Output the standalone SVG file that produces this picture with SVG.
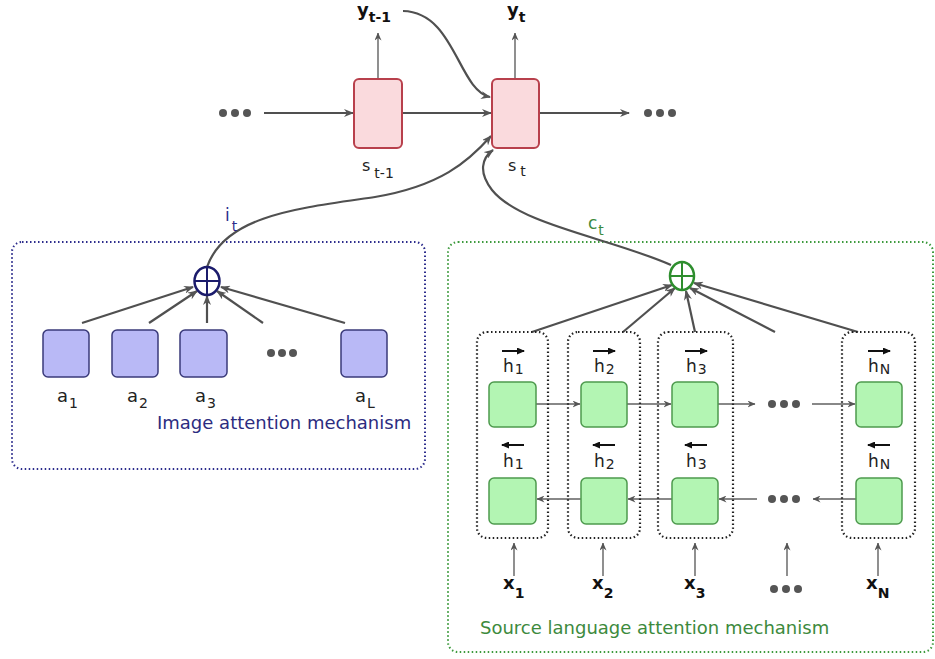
<svg xmlns="http://www.w3.org/2000/svg" width="935" height="659" viewBox="0 0 935 659">
<defs>
<marker id="ah" markerWidth="10" markerHeight="8" refX="9" refY="4" orient="auto" markerUnits="userSpaceOnUse">
<path d="M0,0 L10,4 L0,8 L3,4 Z" fill="#555"/>
</marker>
<marker id="ahs" markerWidth="8" markerHeight="7" refX="7.5" refY="3.5" orient="auto" markerUnits="userSpaceOnUse">
<path d="M0,0 L8,3.5 L0,7 L2.5,3.5 Z" fill="#555"/>
</marker>
<marker id="vec" markerWidth="8" markerHeight="7" refX="7" refY="3.5" orient="auto" markerUnits="userSpaceOnUse">
<path d="M0,0 L8,3.5 L0,7 Z" fill="#111"/>
</marker>
</defs>
<style>
text{font-family:"DejaVu Sans","Liberation Sans",sans-serif;}
.lbl{font-size:18px;fill:#222;}
.hl{font-size:17px;fill:#222;}
.sl{font-size:16px;fill:#222;}
.sub{font-size:14px;}
.bold{font-weight:bold;fill:#111;}
.pink{fill:#fadadd;stroke:#b8404c;stroke-width:2;}
.blue{fill:#b9b9f6;stroke:#3a3a7a;stroke-width:1.5;}
.green{fill:#b3f5b3;stroke:#4e9a4e;stroke-width:1.5;}
.thick{fill:none;stroke:#505050;stroke-width:2.2;}
.thin{fill:none;stroke:#606060;stroke-width:1.4;}
.col{fill:none;stroke:#222;stroke-width:2.2;stroke-dasharray:1.5 2.5;}
.dot{fill:#555;}
.vecl{stroke:#111;stroke-width:2;}
</style>

<!-- containers -->
<g id="image-attention">
<rect x="12" y="242" width="413" height="227" rx="10" fill="none" stroke="#2c2c8c" stroke-width="2" stroke-dasharray="1.5 2.5"/>
<text x="157" y="429" style="font-size:18px;fill:#2c2c80">Image attention mechanism</text>
</g>
<g id="source-attention">
<rect x="448" y="242" width="485" height="410" rx="10" fill="none" stroke="#3d9a3d" stroke-width="2" stroke-dasharray="1.5 2.5"/>
<text x="480" y="634" style="font-size:18px;fill:#3d8a3d">Source language attention mechanism</text>
</g>

<!-- connectors -->
<g id="connectors">
<line class="thick" x1="264" y1="113" x2="353" y2="113" marker-end="url(#ah)"/>
<line class="thick" x1="402" y1="113" x2="491" y2="113" marker-end="url(#ah)"/>
<line class="thick" x1="539" y1="113" x2="629" y2="113" marker-end="url(#ah)"/>
<line class="thin" x1="378" y1="79" x2="378" y2="33" marker-end="url(#ahs)"/>
<line class="thin" x1="515" y1="79" x2="515" y2="33" marker-end="url(#ahs)"/>
<path class="thick" d="M403 11 C455 12 458 90 490 97" marker-end="url(#ah)"/>
<path class="thick" d="M207 267 C225 215 300 208 375 197 C440 186 468 162 491 136" marker-end="url(#ah)"/>
<path class="thick" d="M671 265 C610 238 520 225 492 190 C478 172 482 158 493 150" marker-end="url(#ah)"/>

<!-- image attention -->
<line class="thick" x1="82" y1="323" x2="193" y2="287" marker-end="url(#ah)"/>
<line class="thick" x1="149" y1="323" x2="197" y2="291" marker-end="url(#ah)"/>
<line class="thick" x1="207" y1="323" x2="207" y2="296" marker-end="url(#ah)"/>
<line class="thick" x1="263" y1="323" x2="217" y2="291" marker-end="url(#ah)"/>
<line class="thick" x1="345" y1="323" x2="221" y2="287" marker-end="url(#ah)"/>

<!-- source attention -->
<line class="thick" x1="532" y1="332" x2="672" y2="285" marker-end="url(#ah)"/>
<line class="thick" x1="623" y1="332" x2="675" y2="288" marker-end="url(#ah)"/>
<line class="thick" x1="695" y1="332" x2="686" y2="291" marker-end="url(#ah)"/>
<line class="thick" x1="775" y1="332" x2="690" y2="288" marker-end="url(#ah)"/>
<line class="thick" x1="858" y1="332" x2="694" y2="283" marker-end="url(#ah)"/>

<line class="thin" x1="536" y1="404" x2="580" y2="404" marker-end="url(#ahs)"/>
<line class="thin" x1="627" y1="404" x2="671" y2="404" marker-end="url(#ahs)"/>
<line class="thin" x1="718" y1="404" x2="755" y2="404" marker-end="url(#ahs)"/>
<line class="thin" x1="812" y1="404" x2="855" y2="404" marker-end="url(#ahs)"/>
<line class="thin" x1="581" y1="499" x2="537" y2="499" marker-end="url(#ahs)"/>
<line class="thin" x1="672" y1="499" x2="628" y2="499" marker-end="url(#ahs)"/>
<line class="thin" x1="757" y1="499" x2="719" y2="499" marker-end="url(#ahs)"/>
<line class="thin" x1="856" y1="499" x2="813" y2="499" marker-end="url(#ahs)"/>

<line class="thin" x1="514" y1="576" x2="514" y2="543" marker-end="url(#ahs)"/>
<line class="thin" x1="603" y1="576" x2="603" y2="543" marker-end="url(#ahs)"/>
<line class="thin" x1="695" y1="576" x2="695" y2="543" marker-end="url(#ahs)"/>
<line class="thin" x1="787" y1="576" x2="787" y2="543" marker-end="url(#ahs)"/>
<line class="thin" x1="878" y1="576" x2="878" y2="543" marker-end="url(#ahs)"/>
</g>

<!-- dots -->
<g id="ellipses" class="dot">
<circle cx="223" cy="113" r="4"/><circle cx="235" cy="113" r="4"/><circle cx="247" cy="113" r="4"/>
<circle cx="648" cy="113" r="4"/><circle cx="660" cy="113" r="4"/><circle cx="672" cy="113" r="4"/>
<circle cx="271" cy="353" r="4"/><circle cx="282" cy="353" r="4"/><circle cx="293" cy="353" r="4"/>
<circle cx="772" cy="404" r="4"/><circle cx="784" cy="404" r="4"/><circle cx="796" cy="404" r="4"/>
<circle cx="772" cy="499" r="4"/><circle cx="784" cy="499" r="4"/><circle cx="796" cy="499" r="4"/>
<circle cx="774" cy="589" r="4"/><circle cx="786" cy="589" r="4"/><circle cx="798" cy="589" r="4"/>
</g>

<!-- decoder -->
<g id="s-t-1">
<rect class="pink" x="354" y="79" width="48" height="69" rx="5"/>
<text class="sl" x="362" y="171">s<tspan class="sub" dx="4" dy="7">t-1</tspan></text>
</g>
<g id="s-t">
<rect class="pink" x="492" y="79" width="47" height="69" rx="5"/>
<text class="sl" x="508" y="171">s<tspan class="sub" dx="4" dy="5">t</tspan></text>
</g>
<g id="y-t-1">
<text class="lbl bold" x="357" y="16">y<tspan class="sub" dy="6">t-1</tspan></text>
</g>
<g id="y-t">
<text class="lbl bold" x="507" y="16">y<tspan class="sub" dy="6">t</tspan></text>
</g>

<!-- image attention nodes -->
<g id="sum-i">
<ellipse cx="207" cy="281" rx="12.5" ry="14" fill="#fff" stroke="#1c1c6c" stroke-width="2.5"/>
<line x1="194.5" y1="281" x2="219.5" y2="281" stroke="#1c1c6c" stroke-width="2"/>
<line x1="207" y1="267" x2="207" y2="295" stroke="#1c1c6c" stroke-width="2"/>
<text x="225" y="221" style="font-size:17px;fill:#2c2c8c">i<tspan class="sub" dx="2" dy="10">t</tspan></text>
</g>
<g id="a1"><rect class="blue" x="43" y="330" width="46" height="47" rx="5"/><text class="lbl" x="57" y="402">a<tspan class="sub" dx="1" dy="6">1</tspan></text></g>
<g id="a2"><rect class="blue" x="112" y="330" width="46" height="47" rx="5"/><text class="lbl" x="127" y="402">a<tspan class="sub" dx="1" dy="6">2</tspan></text></g>
<g id="a3"><rect class="blue" x="180" y="330" width="47" height="47" rx="5"/><text class="lbl" x="195" y="402">a<tspan class="sub" dx="1" dy="6">3</tspan></text></g>
<g id="aL"><rect class="blue" x="341" y="330" width="46" height="47" rx="5"/><text class="lbl" x="355" y="402">a<tspan class="sub" dx="1" dy="6">L</tspan></text></g>

<!-- source attention nodes -->
<g id="sum-c">
<ellipse cx="682" cy="276" rx="12" ry="14" fill="#fff" stroke="#2e8e2e" stroke-width="2.5"/>
<line x1="670" y1="276" x2="694" y2="276" stroke="#2e8e2e" stroke-width="2"/>
<line x1="682" y1="262" x2="682" y2="290" stroke="#2e8e2e" stroke-width="2"/>
<text x="588" y="229" style="font-size:17px;fill:#3d8a3d">c<tspan class="sub" dx="1" dy="6">t</tspan></text>
</g>

<g id="col1">
<rect class="col" x="477" y="332" width="71" height="206" rx="10"/>
<line class="vecl" x1="502" y1="351" x2="524" y2="351" marker-end="url(#vec)"/>
<text class="hl" x="503" y="372">h<tspan class="sub" dx="1" dy="2">1</tspan></text>
<rect class="green" x="489" y="382" width="47" height="45" rx="5"/>
<line class="vecl" x1="524" y1="445" x2="502" y2="445" marker-end="url(#vec)"/>
<text class="hl" x="503" y="467">h<tspan class="sub" dx="1" dy="2">1</tspan></text>
<rect class="green" x="489" y="478" width="47" height="46" rx="5"/>
</g>
<g id="col2">
<rect class="col" x="568" y="332" width="72" height="206" rx="10"/>
<line class="vecl" x1="593" y1="351" x2="615" y2="351" marker-end="url(#vec)"/>
<text class="hl" x="594" y="372">h<tspan class="sub" dx="1" dy="2">2</tspan></text>
<rect class="green" x="581" y="382" width="46" height="45" rx="5"/>
<line class="vecl" x1="615" y1="445" x2="593" y2="445" marker-end="url(#vec)"/>
<text class="hl" x="594" y="467">h<tspan class="sub" dx="1" dy="2">2</tspan></text>
<rect class="green" x="581" y="478" width="46" height="46" rx="5"/>
</g>
<g id="col3">
<rect class="col" x="658" y="332" width="75" height="206" rx="10"/>
<line class="vecl" x1="685" y1="351" x2="707" y2="351" marker-end="url(#vec)"/>
<text class="hl" x="686" y="372">h<tspan class="sub" dx="1" dy="2">3</tspan></text>
<rect class="green" x="672" y="382" width="46" height="45" rx="5"/>
<line class="vecl" x1="707" y1="445" x2="685" y2="445" marker-end="url(#vec)"/>
<text class="hl" x="686" y="467">h<tspan class="sub" dx="1" dy="2">3</tspan></text>
<rect class="green" x="672" y="478" width="46" height="46" rx="5"/>
</g>
<g id="colN">
<rect class="col" x="842" y="332" width="73" height="206" rx="10"/>
<line class="vecl" x1="868" y1="351" x2="890" y2="351" marker-end="url(#vec)"/>
<text class="hl" x="868" y="372">h<tspan class="sub" dx="1" dy="2">N</tspan></text>
<rect class="green" x="856" y="382" width="46" height="45" rx="5"/>
<line class="vecl" x1="890" y1="445" x2="868" y2="445" marker-end="url(#vec)"/>
<text class="hl" x="868" y="467">h<tspan class="sub" dx="1" dy="2">N</tspan></text>
<rect class="green" x="856" y="478" width="46" height="46" rx="5"/>
</g>

<g id="x1"><text class="lbl bold" x="503" y="589">x<tspan class="sub" dy="9">1</tspan></text></g>
<g id="x2"><text class="lbl bold" x="592" y="589">x<tspan class="sub" dy="9">2</tspan></text></g>
<g id="x3"><text class="lbl bold" x="684" y="589">x<tspan class="sub" dy="9">3</tspan></text></g>
<g id="xN"><text class="lbl bold" x="866" y="589">x<tspan class="sub" dy="9">N</tspan></text></g>
</svg>
